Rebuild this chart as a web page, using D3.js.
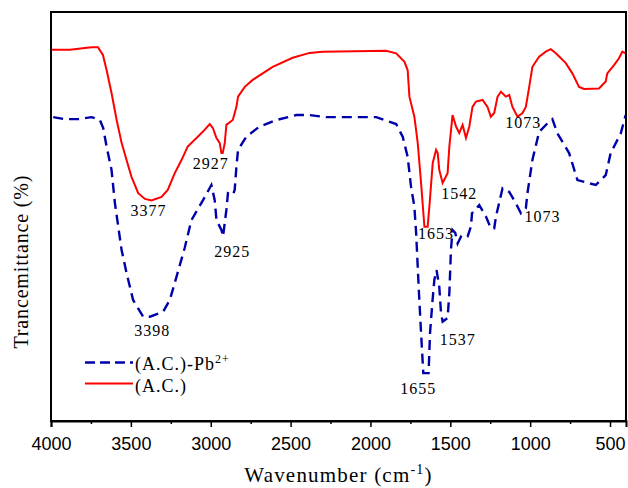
<!DOCTYPE html>
<html>
<head>
<meta charset="utf-8">
<style>
  body { margin: 0; background: #fff; }
  svg { display: block; }
</style>
</head>
<body>
<script src="https://cdn.jsdelivr.net/npm/d3@7/dist/d3.min.js"></script>
<script>
// FTIR spectra (wavenumber in cm-1, transmittance in arbitrary %)
var wnAC = [4000, 3881, 3788, 3744, 3706, 3675, 3652, 3621, 3589, 3558, 3527, 3496, 3454, 3412, 3371, 3308, 3269, 3225, 3183, 3144,
  3089, 3050, 3006, 2986, 2964, 2944, 2933, 2925, 2912, 2902, 2862, 2839, 2829, 2787, 2737, 2612, 2487, 2381, 2300, 1902,
  1839, 1787, 1767, 1756, 1725, 1704, 1683, 1662, 1642, 1631, 1610, 1589, 1579, 1569, 1548, 1517, 1506, 1486, 1464, 1444,
  1423, 1402, 1381, 1361, 1339, 1298, 1267, 1246, 1225, 1204, 1183, 1152, 1131, 1111, 1079, 1048, 1027, 1006, 986, 944,
  902, 871, 839, 777, 736, 694, 662, 569, 527, 517, 475, 444, 423, 402];
var tAC = [90.8, 90.8, 91.2, 91.4, 91.4, 89.5, 85.8, 80.2, 73.6, 68.0, 63.8, 59.7, 55.7, 54.3, 53.9, 54.8, 56.5, 60.6, 63.8, 67.1,
  69.2, 70.7, 72.6, 71.6, 69.2, 68.0, 65.5, 65.5, 68.0, 72.4, 73.6, 76.8, 79.3, 81.7, 83.4, 86.6, 88.8, 90.0, 90.3, 90.5,
  89.9, 87.8, 85.8, 79.3, 74.4, 68.0, 58.2, 47.5, 47.5, 52.4, 63.1, 66.3, 65.5, 61.4, 58.2, 60.6, 67.1, 74.8, 72.0, 70.4,
  72.4, 69.2, 72.0, 76.8, 78.1, 78.5, 76.8, 74.4, 75.3, 79.3, 80.5, 79.3, 79.7, 76.8, 74.4, 75.3, 76.8, 81.7, 86.6, 89.1,
  90.3, 90.9, 89.9, 87.5, 85.0, 81.7, 81.2, 81.3, 83.0, 85.0, 87.0, 88.7, 90.3, 89.9];

var wnPb = [3986, 3912, 3831, 3746, 3694, 3673, 3652, 3621, 3600, 3558, 3527, 3486, 3423, 3381, 3298, 3256, 3214, 3163, 3121, 3048,
  2996, 2975, 2964, 2933, 2923, 2902, 2892, 2861, 2850, 2839, 2829, 2777, 2694, 2589, 2464, 2381, 2277, 1964, 1839, 1798,
  1767, 1746, 1725, 1714, 1704, 1694, 1683, 1669, 1636, 1627, 1611, 1600, 1586, 1569, 1558, 1548, 1517, 1506, 1496, 1486,
  1469, 1454, 1433, 1413, 1392, 1371, 1364, 1319, 1277, 1246, 1225, 1214, 1173, 1131, 1089, 1058, 1027, 1017, 986, 944,
  881, 861, 829, 756, 704, 589, 527, 496, 433, 402];
var tPb = [74.3, 73.8, 73.8, 74.3, 73.6, 71.6, 67.1, 61.4, 53.3, 41.8, 36.2, 29.6, 25.5, 25.5, 26.7, 29.6, 35.3, 42.3, 49.1, 54.0,
  57.7, 54.0, 49.1, 46.7, 45.1, 51.6, 55.7, 55.3, 56.5, 62.2, 66.3, 69.5, 72.0, 73.6, 74.8, 74.8, 74.3, 74.3, 72.6, 69.5,
  64.6, 57.3, 52.4, 46.0, 37.7, 29.6, 21.5, 11.7, 11.7, 21.5, 29.6, 34.5, 36.9, 32.8, 26.3, 24.3, 25.2, 31.3, 41.8, 46.7,
  46.0, 43.4, 45.1, 44.7, 45.1, 47.5, 50.8, 52.8, 50.0, 47.1, 47.1, 50.0, 56.9, 56.0, 53.2, 50.8, 52.0, 55.7, 63.8, 70.7,
  73.2, 73.8, 70.3, 65.5, 58.9, 57.7, 60.1, 65.5, 70.3, 74.8];

// peak annotations: text, wavenumber of label centre, transmittance of label baseline
var peakText = ["3377", "2927", "1653", "1542", "1073", "3398", "2925", "1655", "1537", "1073"];
var peakWn   = [3389, 3000, 1589, 1444, 1044, 3366, 2866, 1700, 1454, 923];
var peakT    = [50.1, 61.6, 44.4, 54.3, 71.6, 20.9, 40.2, 6.6, 18.6, 48.7];

var majorTicks = [4000, 3500, 3000, 2500, 2000, 1500, 1000, 500];
var minorTicks = [3750, 3250, 2750, 2250, 1750, 1250, 750];

var W = 628, H = 488;
var margin = {left: 51, top: 12, right: 2, bottom: 67};

var svg = d3.select("body").append("svg")
    .attr("width", W)
    .attr("height", H);

var x = d3.scaleLinear().domain([4000, 400]).range([margin.left, W - margin.right]);
var y = d3.scaleLinear().domain([0, 100]).range([H - margin.bottom, margin.top]);

var line = d3.line()
    .x(function(d) { return x(d[0]); })
    .y(function(d) { return y(d[1]); });

var serif = "'Liberation Serif', 'Times New Roman', serif";
var sans = "'Liberation Sans', Arial, sans-serif";

// blue dashed (A.C.)-Pb2+
svg.append("path")
    .datum(d3.zip(wnPb, tPb))
    .attr("d", line)
    .attr("fill", "none")
    .attr("stroke", "#0000aa")
    .attr("stroke-width", 2.4)
    .attr("stroke-dasharray", "10,6");

// red solid (A.C.)
svg.append("path")
    .datum(d3.zip(wnAC, tAC))
    .attr("d", line)
    .attr("fill", "none")
    .attr("stroke", "#ff0000")
    .attr("stroke-width", 2);

// peak labels
svg.selectAll("text.peak")
    .data(d3.range(peakText.length))
  .enter().append("text")
    .attr("class", "peak")
    .attr("x", function(i) { return x(peakWn[i]); })
    .attr("y", function(i) { return y(peakT[i]); })
    .attr("text-anchor", "middle")
    .attr("font-family", serif)
    .attr("font-size", 16)
    .attr("letter-spacing", 1)
    .attr("fill", "#000")
    .text(function(i) { return peakText[i]; });

// frame
svg.append("rect")
    .attr("x", margin.left)
    .attr("y", margin.top)
    .attr("width", W - margin.right - margin.left)
    .attr("height", H - margin.bottom - margin.top)
    .attr("fill", "none")
    .attr("stroke", "#000")
    .attr("stroke-width", 2);

// x axis
var gx = svg.append("g")
    .attr("transform", "translate(0," + (H - margin.bottom) + ")")
    .call(d3.axisBottom(x).tickValues(majorTicks).tickSize(6).tickPadding(10).tickFormat(d3.format("d")));
gx.select(".domain").attr("stroke-width", 2);
gx.selectAll(".tick line").attr("stroke-width", 1.5);
gx.selectAll(".tick text").attr("font-family", sans).attr("font-size", 18).attr("fill", "#000");

var gm = svg.append("g")
    .attr("transform", "translate(0," + (H - margin.bottom) + ")")
    .call(d3.axisBottom(x).tickValues(minorTicks).tickSize(3).tickFormat(""));
gm.select(".domain").remove();
gm.selectAll(".tick line").attr("stroke-width", 1.5);

// axis titles
var xt = svg.append("text")
    .attr("x", (margin.left + W - margin.right) / 2)
    .attr("y", 482)
    .attr("text-anchor", "middle")
    .attr("font-family", serif)
    .attr("font-size", 21)
    .attr("letter-spacing", 1.2);
xt.append("tspan").text("Wavenumber (cm");
xt.append("tspan").attr("font-size", 14).attr("dy", -8).text("-1");
xt.append("tspan").attr("dy", 8).text(")");

svg.append("text")
    .attr("transform", "translate(28,262) rotate(-90)")
    .attr("text-anchor", "middle")
    .attr("font-family", serif)
    .attr("font-size", 20)
    .attr("textLength", 173)
    .attr("lengthAdjust", "spacing")
    .text("Trancemittance (%)");

// legend
var legend = svg.append("g").attr("font-family", serif).attr("font-size", 18).attr("letter-spacing", 1);
legend.append("line")
    .attr("x1", 85).attr("x2", 133).attr("y1", 362.5).attr("y2", 362.5)
    .attr("stroke", "#0000aa").attr("stroke-width", 2.4).attr("stroke-dasharray", "10,5");
var lt = legend.append("text").attr("x", 135).attr("y", 370);
lt.append("tspan").text("(A.C.)-Pb");
lt.append("tspan").attr("font-size", 12).attr("dy", -7).text("2+");
legend.append("line")
    .attr("x1", 85).attr("x2", 133).attr("y1", 383.5).attr("y2", 383.5)
    .attr("stroke", "#ff0000").attr("stroke-width", 2);
legend.append("text").attr("x", 135).attr("y", 391.5).text("(A.C.)");
</script>
</body>
</html>
